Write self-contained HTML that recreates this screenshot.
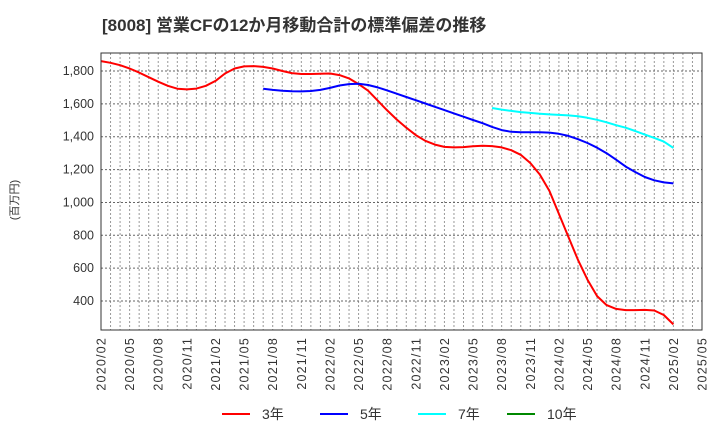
<!DOCTYPE html>
<html><head><meta charset="utf-8"><style>
body{margin:0;background:#fff;font-family:"Liberation Sans","Noto Sans CJK JP",sans-serif;}
svg text{font-family:"Liberation Sans","Noto Sans CJK JP",sans-serif;}
</style></head><body>
<svg id="chart" width="720" height="440" xmlns="http://www.w3.org/2000/svg">
<text x="102" y="31" font-size="17" font-weight="bold" fill="#333">[8008]  営業CFの12か月移動合計の標準偏差の推移</text>
<text transform="translate(18,200) rotate(-90)" text-anchor="middle" font-size="11" fill="#333">(百万円)</text>
<g id="grid"></g><g id="yt"></g><g id="xt"></g><g id="series"></g>
<rect x="101" y="53" width="601" height="277" fill="none" stroke="#333" stroke-width="1"/>
<g>
<line x1="222" y1="414" x2="250" y2="414" stroke="#f00" stroke-width="2"/><text x="262" y="419" font-size="14" fill="#333">3年</text>
<line x1="320" y1="414" x2="348" y2="414" stroke="#00f" stroke-width="2"/><text x="360" y="419" font-size="14" fill="#333">5年</text>
<line x1="418" y1="414" x2="446" y2="414" stroke="#0ff" stroke-width="2"/><text x="458" y="419" font-size="14" fill="#333">7年</text>
<line x1="507" y1="414" x2="535" y2="414" stroke="#080" stroke-width="2"/><text x="547" y="419" font-size="14" fill="#333">10年</text>
</g>
</svg>
<script>
const yTicks=[400,600,800,1000,1200,1400,1600,1800];
const xLabels=["2020/02","2020/05","2020/08","2020/11","2021/02","2021/05","2021/08","2021/11","2022/02","2022/05","2022/08","2022/11","2023/02","2023/05","2023/08","2023/11","2024/02","2024/05","2024/08","2024/11","2025/02","2025/05"];
const s3=[1860,1850,1835,1815,1790,1762,1735,1710,1692,1688,1693,1710,1740,1785,1815,1828,1830,1825,1815,1800,1787,1782,1782,1783,1785,1775,1755,1720,1680,1620,1560,1505,1455,1410,1375,1352,1338,1335,1337,1342,1345,1343,1335,1318,1290,1240,1170,1070,930,790,650,530,430,375,352,345,345,346,342,315,258];
const s5Start=17;
const s5=[1692,1685,1680,1677,1676,1678,1685,1697,1712,1720,1722,1715,1700,1682,1662,1642,1622,1602,1582,1562,1542,1522,1502,1482,1460,1440,1430,1427,1427,1427,1425,1418,1405,1385,1362,1333,1300,1260,1218,1185,1155,1135,1122,1116];
const s7Start=41;
const s7=[1575,1565,1557,1550,1545,1540,1536,1533,1530,1524,1515,1503,1488,1470,1455,1435,1413,1393,1370,1332];
const X0=101,X1=702,Y0=53,Y1=330,NM=63;
const xs=i=>X0+(X1-X0)*i/NM;
const ys=v=>71+(1800-v)/200*32.86;
const NS="http://www.w3.org/2000/svg";
function mk(t,a,p){const e=document.createElementNS(NS,t);for(const k in a)e.setAttribute(k,a[k]);p.appendChild(e);return e;}
const grid=document.getElementById('grid');
for(let i=1;i<NM;i++){const l=mk('line',{x1:xs(i),x2:xs(i),y1:Y0,y2:Y1,stroke:'#999','stroke-dasharray':'2,2','stroke-width':1},grid);

}
const yt=document.getElementById('yt');
yTicks.forEach(v=>{const l=mk('line',{x1:X0,x2:X1,y1:ys(v),y2:ys(v),stroke:'#666','stroke-dasharray':'2,2','stroke-width':1},grid);


const t=mk('text',{x:94,y:ys(v)+4,'text-anchor':'end','font-size':12.5,fill:'#333'},yt);


t.textContent=v.toLocaleString('en-US');});
const xt=document.getElementById('xt');
xLabels.forEach((s,k)=>{const x=xs(k*3);const t=mk('text',{transform:`translate(${x+4.5},337) rotate(-90)`,'text-anchor':'end','font-size':12.5,'letter-spacing':1.2,fill:'#333'},xt);


t.textContent=s;});
const sg=document.getElementById('series');
function line(vals,start,color,name){const d=vals.map((v,i)=>(i?'L':'M')+xs(start+i).toFixed(1)+','+ys(v).toFixed(1)).join('');
const p=mk('path',{d:d,fill:'none',stroke:color,'stroke-width':2,'stroke-linejoin':'round'},sg);

}
line(s3,0,'#f00','series-3yr');
line(s5,s5Start,'#00f','series-5yr');
line(s7,s7Start,'#0ff','series-7yr');
</script>
</body></html>
